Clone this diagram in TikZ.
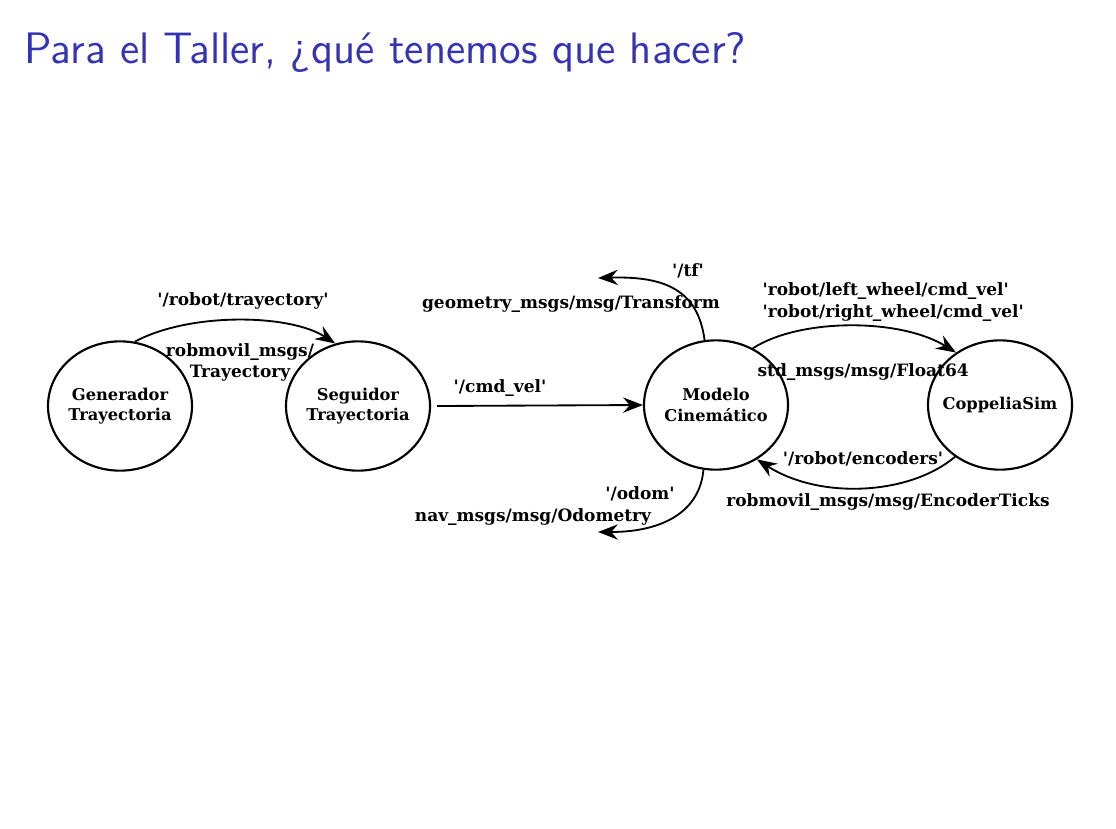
\documentclass[tikz,border=0pt]{standalone}
\usepackage{fontspec}
\newfontfamily\dv{DejaVu Serif}
\usetikzlibrary{arrows.meta,shapes.geometric}
\definecolor{titleblue}{RGB}{51,51,179}
\newcommand{\zw}[1]{\makebox[0pt]{#1}}
\begin{document}
\begin{tikzpicture}[x=0.3264pt,y=-0.3264pt,
  proc/.style={ellipse,draw,line width=0.7pt,minimum width=47pt,minimum height=42.2pt,inner sep=0pt,align=center,font=\dv\bfseries\fontsize{5.3}{6.6}\selectfont},
  lbl/.style={inner sep=0pt,font=\dv\bfseries\fontsize{5.55}{6.9}\selectfont},
  conn/.style={line width=0.6pt,-{Stealth[length=6.5pt,width=5pt,inset=2.2pt]}}]
\useasboundingbox (0,0) rectangle (1116,828);
\node[anchor=base west,inner sep=0pt,text=titleblue,font=\sffamily\fontsize{14.4}{17}\selectfont] (title) at (24,63) {Para el Taller, ¿qué tenemos que hacer?};

\node[proc] (gen) at (120,406) {\zw{Generador}\\\zw{Trayectoria}};
\node[proc] (seg) at (358,406) {\zw{Seguidor}\\\zw{Trayectoria}};
\node[proc] (mod) at (716,405) {\zw{Modelo}\\\zw{Cinemático}};
\node[proc] (cop) at (1000,405) {\zw{CoppeliaSim}};

\coordinate (tfend) at (598,278);
\coordinate (odend) at (598,532);

\draw[conn] (gen.77) .. controls (190,312) and (290,314) .. (seg.110);
\draw[conn] (seg.east) ++(6,0) coordinate (segout) -- (mod.west);
\draw[conn] (mod.100) .. controls (698,290) and (665,276) .. (tfend);
\draw[conn] (mod.259) .. controls (700,510) and (665,532) .. (odend);
\draw[conn] (mod.57) .. controls (800,318) and (900,318) .. (cop.130);
\draw[conn] (cop.229) .. controls (910,495) and (820,500) .. (mod.-53);

\node[lbl] (l1) at (243,301) {'/robot/trayectory'};
\node[lbl,align=center] (l2) at (240,362) {robmovil\_msgs/\\Trayectory};
\node[lbl] (l3) at (500,388) {'/cmd\_vel'};
\node[lbl] (l4) at (688,271) {'/tf'};
\node[lbl] (l5) at (571,304) {geometry\_msgs/msg/Transform};
\node[lbl] (l6) at (640,494) {'/odom'};
\node[lbl] (l7) at (533,517) {nav\_msgs/msg/Odometry};
\node[lbl,align=left,anchor=west] (l8) at (762,302) {'robot/left\_wheel/cmd\_vel'\\'robot/right\_wheel/cmd\_vel'};
\node[lbl,anchor=west] (l9) at (757,372) {std\_msgs/msg/Float64};
\node[lbl] (l10) at (863,459) {'/robot/encoders'};
\node[lbl] (l11) at (888,502) {robmovil\_msgs/msg/EncoderTicks};
\end{tikzpicture}
\end{document}
